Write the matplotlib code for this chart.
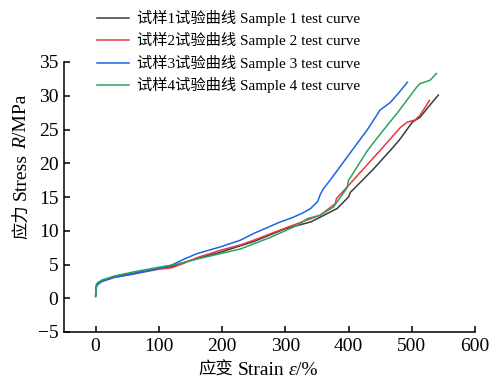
import matplotlib
matplotlib.use('Agg')
import matplotlib.pyplot as plt

# strain (%) / stress (MPa)
s1_strain = [0, 1, 3, 10, 30, 60, 100, 120, 150, 200, 250, 300, 340, 355, 382, 400, 403, 419, 440, 466, 480, 501, 513, 525, 542]
s1_stress = [0.3, 1.7, 2.1, 2.6, 3.2, 3.7, 4.4, 4.7, 5.6, 6.9, 8.4, 10.3, 11.3, 12.0, 13.3, 15.0, 15.7, 17.2, 19.2, 21.9, 23.4, 26.1, 26.8, 28.2, 30.1]

s2_strain = [0, 1, 3, 10, 30, 60, 100, 120, 140, 160, 197, 229, 250, 303, 355, 379, 381, 398, 420, 450, 482, 493, 505, 513, 528]
s2_stress = [0.5, 1.8, 2.1, 2.5, 3.1, 3.6, 4.3, 4.5, 5.2, 6.0, 7.1, 7.9, 8.6, 10.5, 12.3, 14.0, 14.8, 16.5, 18.8, 21.9, 25.3, 26.1, 26.4, 27.1, 29.3]

s3_strain = [0, 1, 3, 10, 30, 60, 100, 120, 140, 160, 197, 229, 250, 292, 310, 329, 340, 351, 355, 360, 371, 400, 430, 450, 466, 480, 493]
s3_stress = [0.4, 1.6, 2.0, 2.5, 3.1, 3.6, 4.4, 4.9, 5.8, 6.6, 7.6, 8.6, 9.6, 11.3, 11.9, 12.7, 13.3, 14.3, 15.3, 16.2, 17.5, 21.2, 25.0, 27.9, 29.0, 30.5, 32.0]

s4_strain = [0, 1, 3, 10, 30, 60, 100, 120, 140, 160, 197, 229, 276, 319, 335, 355, 376, 398, 400, 403, 430, 450, 480, 508, 513, 529, 539]
s4_stress = [0.2, 2.0, 2.3, 2.7, 3.3, 3.9, 4.6, 4.9, 5.3, 5.8, 6.6, 7.3, 9.0, 10.8, 11.8, 12.3, 13.5, 16.4, 17.5, 17.9, 21.9, 24.3, 27.8, 31.3, 31.8, 32.3, 33.3]

labels = ['试样1试验曲线 Sample 1 test curve',
          '试样2试验曲线 Sample 2 test curve',
          '试样3试验曲线 Sample 3 test curve',
          '试样4试验曲线 Sample 4 test curve']
colors = ['#3c3c3c', '#e8383d', '#1a66e6', '#2ca25f']

xticks = [0, 100, 200, 300, 400, 500, 600]
yticks = [-5, 0, 5, 10, 15, 20, 25, 30, 35]

SERIF = 'Liberation Serif'
CJK = 'Noto Sans CJK SC'
plt.rcParams['font.family'] = [SERIF, CJK]

W, H = 492, 381
fig = plt.figure(figsize=(W / 100, H / 100), dpi=100)
ax = fig.add_axes([64 / W, 49 / H, (475 - 64) / W, (332 - 62) / H])

series = [(s1_strain, s1_stress), (s2_strain, s2_stress), (s3_strain, s3_stress), (s4_strain, s4_stress)]
lines = []
for (x, y), c, lab in zip(series, colors, labels):
    ln, = ax.plot(x, y, color=c, lw=1.1, label=lab)
    lines.append(ln)

ax.set_xlim(-50, 600)
ax.set_ylim(-5, 35)
ax.set_xticks(xticks)
ax.set_yticks(yticks)
for side in ['top', 'right']:
    ax.spines[side].set_visible(False)
for side in ['left', 'bottom']:
    ax.spines[side].set_linewidth(1.1)
ax.tick_params(direction='in', length=4, width=1.1, labelsize=14, pad=4)

fig.legend(handles=lines, loc='upper left', bbox_to_anchor=(97 / W, 1 - 10 / H),
           frameon=False, borderpad=0, borderaxespad=0, handlelength=2.1,
           handletextpad=0.5, labelspacing=0.42, prop={'size': 11})


def mixed_text(pieces, x, y, vertical=False):
    # x, y in figure pixels: label centre along its length, baseline across it
    rot = 90 if vertical else 0
    texts = []
    for s, kw, gap in pieces:
        texts.append(fig.text(0, 0, s, rotation=rot, rotation_mode='anchor',
                              ha='left', va='baseline', **kw))
    r = fig.canvas.get_renderer()
    lens = []
    for t in texts:
        bb = t.get_window_extent(r)
        lens.append(bb.height if vertical else bb.width)
    total = sum(lens) + sum(p[2] for p in pieces)
    pos = -total / 2
    for t, p, l in zip(texts, pieces, lens):
        pos += p[2]
        if vertical:
            t.set_position((x / W, (y + pos) / H))
        else:
            t.set_position(((x + pos) / W, y / H))
        pos += l


cjk_kw = dict(family=CJK, fontsize=12.5)
lat_kw = dict(family=SERIF, fontsize=14)
ita_kw = dict(family=SERIF, fontsize=14, style='italic')

mixed_text([('应变', cjk_kw, 0), ('Strain', lat_kw, 4), ('ε', ita_kw, 4), ('/%', lat_kw, 0)],
           258, 6)
mixed_text([('应力', cjk_kw, 0), ('Stress', lat_kw, 4), ('R', ita_kw, 4), ('/MPa', lat_kw, 0)],
           26, 214, vertical=True)

fig.savefig('out.png', dpi=100)
